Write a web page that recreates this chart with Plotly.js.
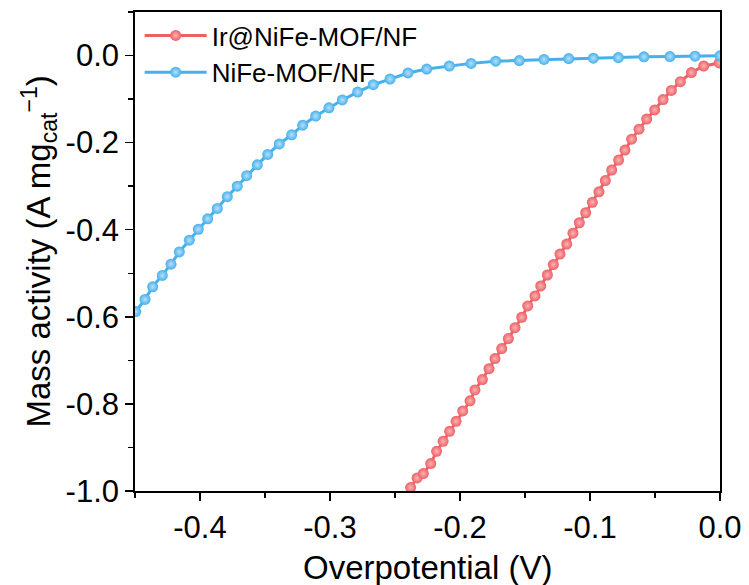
<!DOCTYPE html>
<html>
<head>
<meta charset="utf-8">
<script src="https://cdn.plot.ly/plotly-3.0.1.min.js"></script>
<style>html,body{margin:0;padding:0;background:#fff;}#chart{width:749px;height:585px;}</style>
</head>
<body>
<div id="chart"></div>
<script>
// Ir@NiFe-MOF/NF (red)
const irX = [-0.2430, -0.2380, -0.2330, -0.2282, -0.2225, -0.2180, -0.2130, -0.2080, -0.2030, -0.1979, -0.1923, -0.1885, -0.1828, -0.1777, -0.1731, -0.1679, -0.1628, -0.1577, -0.1525, -0.1479, -0.1423, -0.1379, -0.1328, -0.1282, -0.1231, -0.1179, -0.1131, -0.1082, -0.1033, -0.0982, -0.0931, -0.0882, -0.0833, -0.0780, -0.0731, -0.0680, -0.0623, -0.0564, -0.0502, -0.0438, -0.0374, -0.0305, -0.0220, -0.0125, -0.0005];
const irY = [-1.015, -0.992, -0.970, -0.960, -0.937, -0.909, -0.886, -0.863, -0.840, -0.816, -0.793, -0.768, -0.744, -0.719, -0.696, -0.673, -0.650, -0.625, -0.601, -0.575, -0.552, -0.529, -0.504, -0.480, -0.456, -0.433, -0.408, -0.384, -0.361, -0.337, -0.313, -0.287, -0.263, -0.240, -0.217, -0.192, -0.169, -0.146, -0.125, -0.101, -0.080, -0.060, -0.039, -0.024, -0.017];

// NiFe-MOF/NF (blue)
const nfX = [-0.4495, -0.4423, -0.4364, -0.4290, -0.4223, -0.4159, -0.4082, -0.4013, -0.3941, -0.3867, -0.3790, -0.3713, -0.3641, -0.3559, -0.3479, -0.3390, -0.3295, -0.3210, -0.3110, -0.3008, -0.2905, -0.2787, -0.2667, -0.2538, -0.2400, -0.2256, -0.2082, -0.1915, -0.1725, -0.1544, -0.1354, -0.1164, -0.0974, -0.0782, -0.0585, -0.0385, -0.0192, 0.0000];
const nfY = [-0.588, -0.560, -0.531, -0.505, -0.479, -0.451, -0.424, -0.399, -0.375, -0.351, -0.324, -0.300, -0.276, -0.251, -0.227, -0.203, -0.182, -0.160, -0.139, -0.120, -0.102, -0.084, -0.067, -0.054, -0.040, -0.031, -0.024, -0.018, -0.013, -0.0115, -0.009, -0.007, -0.006, -0.0046, -0.003, -0.0023, -0.0015, -0.0007];

const seriesNames = ['Ir@NiFe-MOF/NF', 'NiFe-MOF/NF'];
const xTitle = 'Overpotential (V)';
const yTitle = 'Mass activity (A mg<sub>cat</sub><sup>\u22121</sup>)';

const xTickVals = [-0.4, -0.3, -0.2, -0.1, 0.0];
const xTickText = ['-0.4', '-0.3', '-0.2', '-0.1', '0.0'];
const yTickVals = [0.0, -0.2, -0.4, -0.6, -0.8, -1.0];
const yTickText = ['0.0', '-0.2', '-0.4', '-0.6', '-0.8', '-1.0'];

const FONT = 'Liberation Sans, Arial, sans-serif';
const RED = '#EE5F63';
const BLUE = '#46B0EC';

const traces = [
  {
    x: irX, y: irY, name: seriesNames[0], type: 'scatter', mode: 'lines+markers',
    line: {color: RED, width: 3},
    marker: {symbol: 'circle', size: 11, color: RED, gradient: {type: 'radial', color: '#F7B5B6'}, line: {width: 0}},
    cliponaxis: true
  },
  {
    x: nfX, y: nfY, name: seriesNames[1], type: 'scatter', mode: 'lines+markers',
    line: {color: BLUE, width: 3},
    marker: {symbol: 'circle', size: 11, color: BLUE, gradient: {type: 'radial', color: '#B5E0FA'}, line: {width: 0}},
    cliponaxis: true
  }
];

const axisCommon = {
  showline: true, linecolor: '#000', linewidth: 1.8, mirror: true,
  ticks: 'outside', ticklen: 8, tickwidth: 1.5, tickcolor: '#000',
  showgrid: false, zeroline: false, automargin: false,
  tickfont: {family: FONT, size: 31, color: '#000'},
  tickmode: 'array'
};

const layout = {
  width: 749, height: 585,
  margin: {l: 135, r: 29, t: 12, b: 94},
  paper_bgcolor: '#fff', plot_bgcolor: '#fff',
  showlegend: true,
  legend: {
    x: 0.008, y: 1.0, xanchor: 'left', yanchor: 'top',
    bgcolor: 'rgba(0,0,0,0)', borderwidth: 0,
    font: {family: FONT, size: 26, color: '#000'},
    itemwidth: 62, tracegroupgap: 0
  },
  xaxis: Object.assign({}, axisCommon, {
    range: [-0.45, 0.0],
    tickvals: xTickVals, ticktext: xTickText,
    minor: {dtick: 0.05, tick0: 0, ticks: 'outside', ticklen: 5, tickwidth: 1.5, tickcolor: '#000', showgrid: false}
  }),
  yaxis: Object.assign({}, axisCommon, {
    range: [-1.0, 0.1],
    tickvals: yTickVals, ticktext: yTickText,
    minor: {dtick: 0.1, tick0: 0, ticks: 'outside', ticklen: 5, tickwidth: 1.5, tickcolor: '#000', showgrid: false}
  }),
  annotations: [
    {text: xTitle, xref: 'paper', yref: 'paper', x: 0.5, y: -0.159, xanchor: 'center', yanchor: 'middle',
     showarrow: false, font: {family: FONT, size: 33, color: '#000'}},
    {text: yTitle, xref: 'paper', yref: 'paper', x: -0.164, y: 0.5, xanchor: 'center', yanchor: 'middle',
     textangle: -90, showarrow: false, font: {family: FONT, size: 33, color: '#000'}}
  ]
};

Plotly.newPlot('chart', traces, layout, {displayModeBar: false, staticPlot: true});
</script>
</body>
</html>
